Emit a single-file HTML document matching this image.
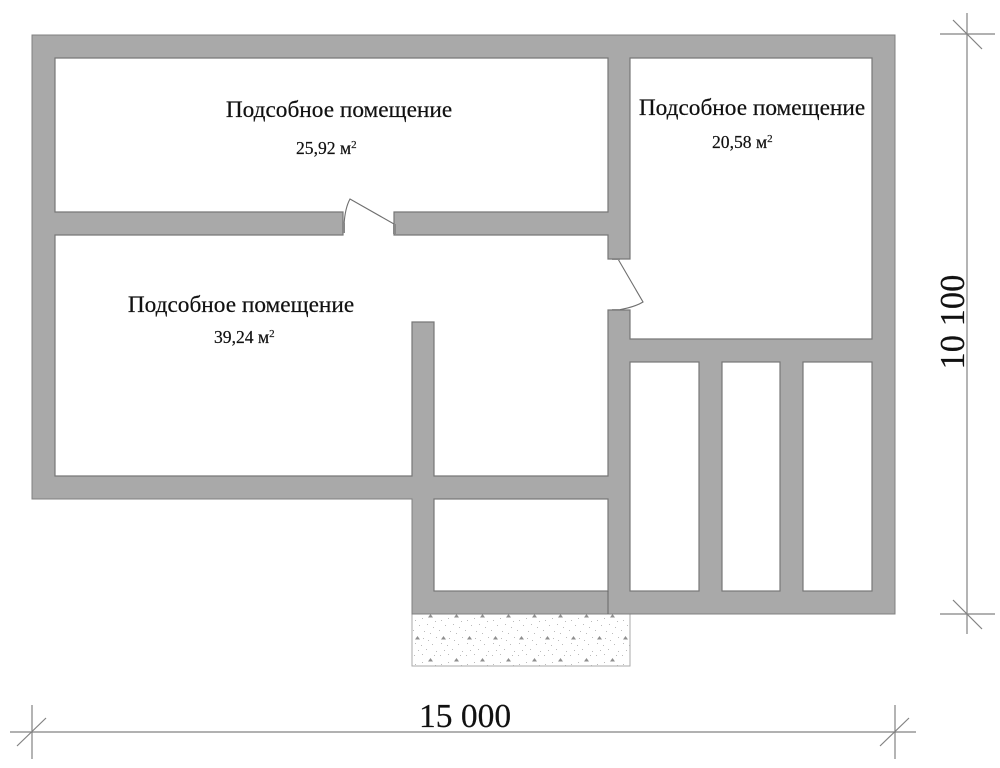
<!DOCTYPE html>
<html>
<head>
<meta charset="utf-8">
<style>
html,body{margin:0;padding:0;background:#fff;width:1000px;height:768px;overflow:hidden}
svg{display:block}
text{font-family:"Liberation Serif",serif;fill:#111;stroke:#111;stroke-width:.2}
</style>
</head>
<body>
<svg width="1000" height="768" viewBox="0 0 1000 768" xmlns="http://www.w3.org/2000/svg">
<defs>
<pattern id="g" x="412" y="614" width="26" height="44" patternUnits="userSpaceOnUse">
<rect width="26" height="44" fill="#fff"/>
<path d="M18.500,0l2.500,3.500h-5zM5.500,22l2.500,3.500h-5zM18.500,44l2.500,3.500h-5zM18.500,-44l2.500,3.500h-5z" fill="#8f8f8f"/>
<g fill="#bbb">
<rect x="3" y="6" width="1" height="1"/><rect x="10" y="4" width="1" height="1"/><rect x="23" y="7" width="1" height="1"/>
<rect x="7" y="11" width="1" height="1"/><rect x="15" y="10" width="1" height="1"/><rect x="21" y="13" width="1" height="1"/>
<rect x="1" y="16" width="1" height="1"/><rect x="12" y="17" width="1" height="1"/><rect x="18" y="19" width="1" height="1"/>
<rect x="11" y="24" width="1" height="1"/><rect x="16" y="26" width="1" height="1"/><rect x="24" y="23" width="1" height="1"/>
<rect x="3" y="29" width="1" height="1"/><rect x="9" y="31" width="1" height="1"/><rect x="20" y="30" width="1" height="1"/>
<rect x="6" y="36" width="1" height="1"/><rect x="14" y="35" width="1" height="1"/><rect x="24" y="37" width="1" height="1"/>
<rect x="2" y="41" width="1" height="1"/><rect x="10" y="40" width="1" height="1"/><rect x="22" y="41" width="1" height="1"/>
</g>
</pattern>
</defs>

<!-- gravel -->
<rect x="412" y="614" width="218" height="52" fill="url(#g)" stroke="#aaa" stroke-width="1"/>

<!-- outer walls -->
<polygon points="32,35 895,35 895,614 412,614 412,499 32,499" fill="#a9a9a9" stroke="#808080" stroke-width="1"/>

<!-- interior -->
<g fill="#fff" stroke="#777" stroke-width="1.2">
<polygon points="55,58 608,58 608,212 394,212 394,235 608,235 608,259 630,259 630,58 872,58 872,339 630,339 630,310 608,310 608,476 434,476 434,322 412,322 412,476 55,476 55,235 343,235 343,212 55,212"/>
<rect x="630" y="362" width="69" height="229"/>
<rect x="722" y="362" width="58" height="229"/>
<rect x="803" y="362" width="69" height="229"/>
<rect x="434" y="499" width="174" height="92"/>
</g>

<!-- seam -->
<line x1="608" y1="591" x2="608" y2="614" stroke="#666" stroke-width="1"/>

<!-- white over door openings -->
<rect x="344" y="211" width="49" height="25" fill="#fff"/>
<rect x="607" y="260" width="24" height="49" fill="#fff"/>
<g stroke="#777" stroke-width="1" fill="none">
<path d="M343,212V235M394,212V235M608,259H630M608,310H630"/>
</g>

<!-- doors -->
<g fill="none" stroke="#6f6f6f" stroke-width="1.1">
<path d="M344,225 Q345,208 350,199 L394,224"/>
<path d="M618,259 L643,302 Q635,307 618,310"/>
</g>
<g fill="#888">
<rect x="342" y="223" width="3" height="10"/>
<rect x="393" y="224" width="3" height="10"/>
<rect x="612" y="258" width="8" height="2"/>
<rect x="612" y="309" width="8" height="2"/>
</g>

<!-- dimensions -->
<g stroke="#828282" stroke-width="1.2" fill="none">
<line x1="967" y1="13" x2="967" y2="634"/>
<line x1="940" y1="34" x2="995" y2="34"/>
<line x1="940" y1="614" x2="995" y2="614"/>
<line x1="953" y1="20" x2="982" y2="49"/>
<line x1="953" y1="600" x2="982" y2="629"/>
<line x1="10" y1="732" x2="916" y2="732"/>
<line x1="32" y1="705" x2="32" y2="759"/>
<line x1="895" y1="705" x2="895" y2="759"/>
<line x1="17" y1="746" x2="46" y2="718"/>
<line x1="880" y1="746" x2="909" y2="718"/>
</g>

<!-- labels -->
<text x="339" y="117" font-size="23.3" text-anchor="middle">Подсобное помещение</text>
<text x="752" y="115" font-size="23.3" text-anchor="middle">Подсобное помещение</text>
<text x="241" y="312" font-size="23.3" text-anchor="middle">Подсобное помещение</text>
<text x="296" y="154" font-size="17.6">25,92 м<tspan font-size="11" dy="-6">2</tspan></text>
<text x="712" y="148" font-size="17.6">20,58 м<tspan font-size="11" dy="-6">2</tspan></text>
<text x="214" y="343" font-size="17.6">39,24 м<tspan font-size="11" dy="-6">2</tspan></text>
<text x="465" y="727" font-size="33.500" text-anchor="middle">15 000</text>
<text transform="translate(964,322) rotate(-90)" font-size="34.500" text-anchor="middle">10 100</text>
</svg>
</body>
</html>
